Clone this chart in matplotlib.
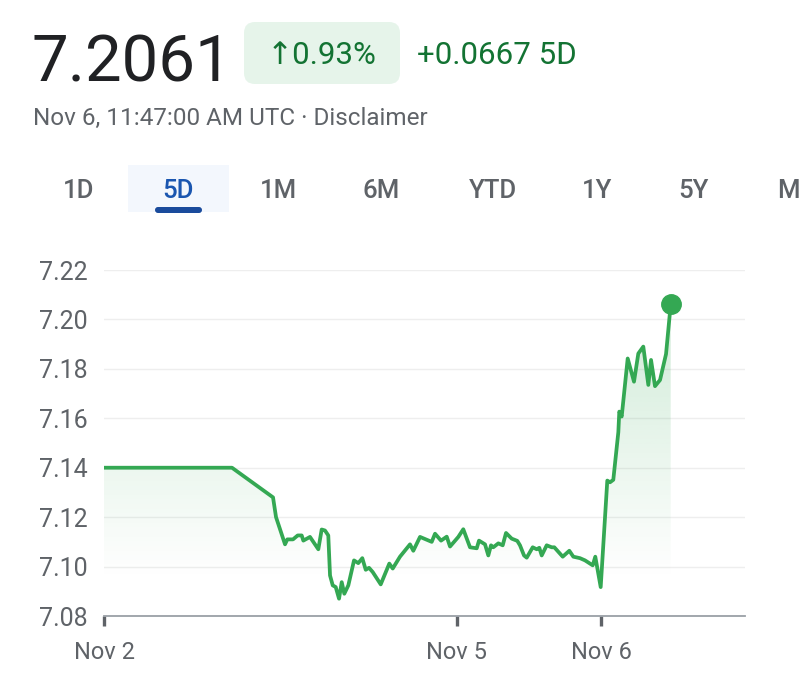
import numpy as np
import matplotlib
matplotlib.use("Agg")
import matplotlib.pyplot as plt
from matplotlib.patches import Polygon, FancyBboxPatch
from matplotlib.transforms import IdentityTransform

# ---------------- data ----------------
# x: hours on the chart's session timeline (Nov 2 tick = 0)
hours = [0, 21.33, 28.17, 28.67, 30.17, 30.55, 31.5, 32.28, 32.95, 33.22, 34.33,
         35.72, 36.28, 36.83, 37.38, 37.67, 38.12, 38.62, 39.17, 39.62, 40.05,
         40.72, 41.67, 42.38, 43.05, 43.62, 44.17, 44.78, 46.12, 47.55, 48.12,
         49.33, 51.0, 51.55, 52.67, 54.62, 55.17, 56.17, 57.12, 57.67, 59.05,
         59.88, 61.0, 62.12, 62.5, 63.5, 64.05, 64.5, 64.88, 65.72, 66.45,
         67.0, 67.95, 68.88, 69.33, 70.0, 70.45, 71.45, 72.12, 72.55, 72.95,
         73.78, 74.62, 75.05, 76.45, 77.55, 78.22, 79.33, 80.17, 81.45, 81.88,
         82.78, 83.88, 84.33, 84.88, 85.72, 85.88, 86.28, 87.28, 88.33, 89.05,
         89.88, 90.72, 91.17, 91.83, 92.67, 93.67, 94.45]
price = [7.140, 7.140, 7.128, 7.120, 7.109, 7.111, 7.111, 7.1126, 7.1126, 7.1105, 7.112,
         7.107, 7.115, 7.1146, 7.1126, 7.0964, 7.0924, 7.0917, 7.087, 7.0937, 7.089,
         7.0924, 7.1025, 7.1014, 7.1034, 7.0987, 7.0995, 7.0978, 7.0928, 7.1012, 7.0992,
         7.104, 7.109, 7.1064, 7.112, 7.110, 7.1133, 7.1105, 7.1121, 7.1081, 7.112,
         7.1151, 7.1078, 7.1074, 7.1105, 7.109, 7.1045, 7.1086, 7.1078, 7.1094, 7.1086,
         7.1136, 7.1113, 7.1104, 7.1086, 7.1045, 7.1036, 7.1078, 7.107, 7.1076, 7.1045,
         7.1086, 7.1078, 7.1078, 7.104, 7.1064, 7.104, 7.1034, 7.1025, 7.1005, 7.104,
         7.0917, 7.1348, 7.1341, 7.1351, 7.1544, 7.1627, 7.1607, 7.1842, 7.1748, 7.1862,
         7.189, 7.1735, 7.1836, 7.173, 7.1755, 7.186, 7.2061]

y_ticks = [7.08, 7.10, 7.12, 7.14, 7.16, 7.18, 7.20, 7.22]
x_tick_pos = [0, 58.83, 82.83]
x_tick_labels = ["Nov 2", "Nov 5", "Nov 6"]
x_end = 106.83

tabs = ["1D", "5D", "1M", "6M", "YTD", "1Y", "5Y"]
tab_x = [79, 177.5, 278, 381, 493, 597.5, 693]

last_price = "7.2061"
pct_change = "↑0.93%"
abs_change = "+0.0667 5D"
timestamp = "Nov 6, 11:47:00 AM UTC · Disclaimer"

# ---------------- style ----------------
GREEN = "#34a853"
DARK_GREEN = "#137333"
GRAY = "#5f6368"
FONT = ["Roboto", "DejaVu Sans"]
plt.rcParams["font.family"] = FONT

W, H = 800, 697
fig = plt.figure(figsize=(W / 100, H / 100), dpi=100)
fig.patch.set_facecolor("white")
ID = IdentityTransform()


def P(x, y):
    return x, H - y


# header
fig.text(*P(31, 82), last_price, transform=ID, fontsize=47, color="#202124",
         ha="left", va="baseline")
badge = FancyBboxPatch(P(244, 84), 156, 62, boxstyle="round,pad=0,rounding_size=11",
                       transform=ID, facecolor="#e6f4ea", edgecolor="none")
fig.patches.append(badge)
fig.text(*P(322, 64), pct_change, transform=ID, fontsize=22.5, color=DARK_GREEN,
         ha="center", va="baseline")
fig.text(*P(417, 64), abs_change, transform=ID, fontsize=22.5, color=DARK_GREEN,
         ha="left", va="baseline")
fig.text(*P(33, 125), timestamp, transform=ID, fontsize=17.5, color=GRAY,
         ha="left", va="baseline")

# tabs
hl = FancyBboxPatch(P(128, 212), 101, 47, boxstyle="square,pad=0",
                    transform=ID, facecolor="#f3f7fd", edgecolor="none")
fig.patches.append(hl)
ul = FancyBboxPatch(P(155, 213), 47, 6, boxstyle="round,pad=0,rounding_size=3",
                    transform=ID, facecolor="#1a4b9c", edgecolor="none")
fig.patches.append(ul)
for lab, x in zip(tabs, tab_x):
    fig.text(*P(x, 198), lab, transform=ID, fontsize=18.5,
             color="#1a56b0" if lab == "5D" else GRAY,
             ha="center", va="baseline", fontweight="medium")
fig.text(*P(777, 198), "M", transform=ID, fontsize=18.5, color=GRAY,
         ha="left", va="baseline", fontweight="medium")

# chart
ax = fig.add_axes([104 / W, 1 - 616 / H, 641 / W, 346 / H])
ax.set_xlim(0, x_end)
ax.set_ylim(7.08, 7.22)

x = np.array(hours)
y = np.array(price)

# gradient fill under the line
verts = np.column_stack([np.r_[x[0], x, x[-1]], np.r_[7.08, y, 7.08]])
poly = Polygon(verts, closed=True, facecolor="none", edgecolor="none")
ax.add_patch(poly)
n = 256
yy = np.linspace(7.08, 7.22, n)
alpha = np.clip((yy - 7.095) / (7.22 - 7.095), 0, 1) * 0.26
grad = np.zeros((n, 1, 4))
grad[:, 0, :3] = matplotlib.colors.to_rgb(GREEN)
grad[:, 0, 3] = alpha
im = ax.imshow(grad, extent=[x[0], x[-1], 7.08, 7.22], origin="lower",
               aspect="auto", zorder=1, interpolation="bilinear")
im.set_clip_path(poly)

ax.plot(x, y, color=GREEN, lw=2.7, zorder=3, solid_joinstyle="round")
ax.plot(x[-1], y[-1], "o", color=GREEN, markersize=14, zorder=4, clip_on=False)

ax.set_xlim(0, x_end)
ax.set_ylim(7.08, 7.22)

ax.set_yticks(y_ticks)
ax.set_yticklabels([f"{v:.2f}" for v in y_ticks])
ax.set_xticks(x_tick_pos)
ax.set_xticklabels(x_tick_labels)
ax.grid(axis="y", color="#eeeeee", lw=1.0, zorder=0)
ax.set_axisbelow(True)
for s in ["top", "right", "left"]:
    ax.spines[s].set_visible(False)
ax.spines["bottom"].set_color("#9aa0a6")
ax.spines["bottom"].set_linewidth(1.3)
ax.spines["bottom"].set_zorder(5)
ax.tick_params(axis="y", length=0, pad=12, labelsize=18, labelcolor=GRAY)
ax.tick_params(axis="x", length=7, width=2.4, color=GRAY, pad=11,
               labelsize=17, labelcolor=GRAY)
ax.set_facecolor("none")

fig.savefig("out.png", dpi=100, facecolor="white")
